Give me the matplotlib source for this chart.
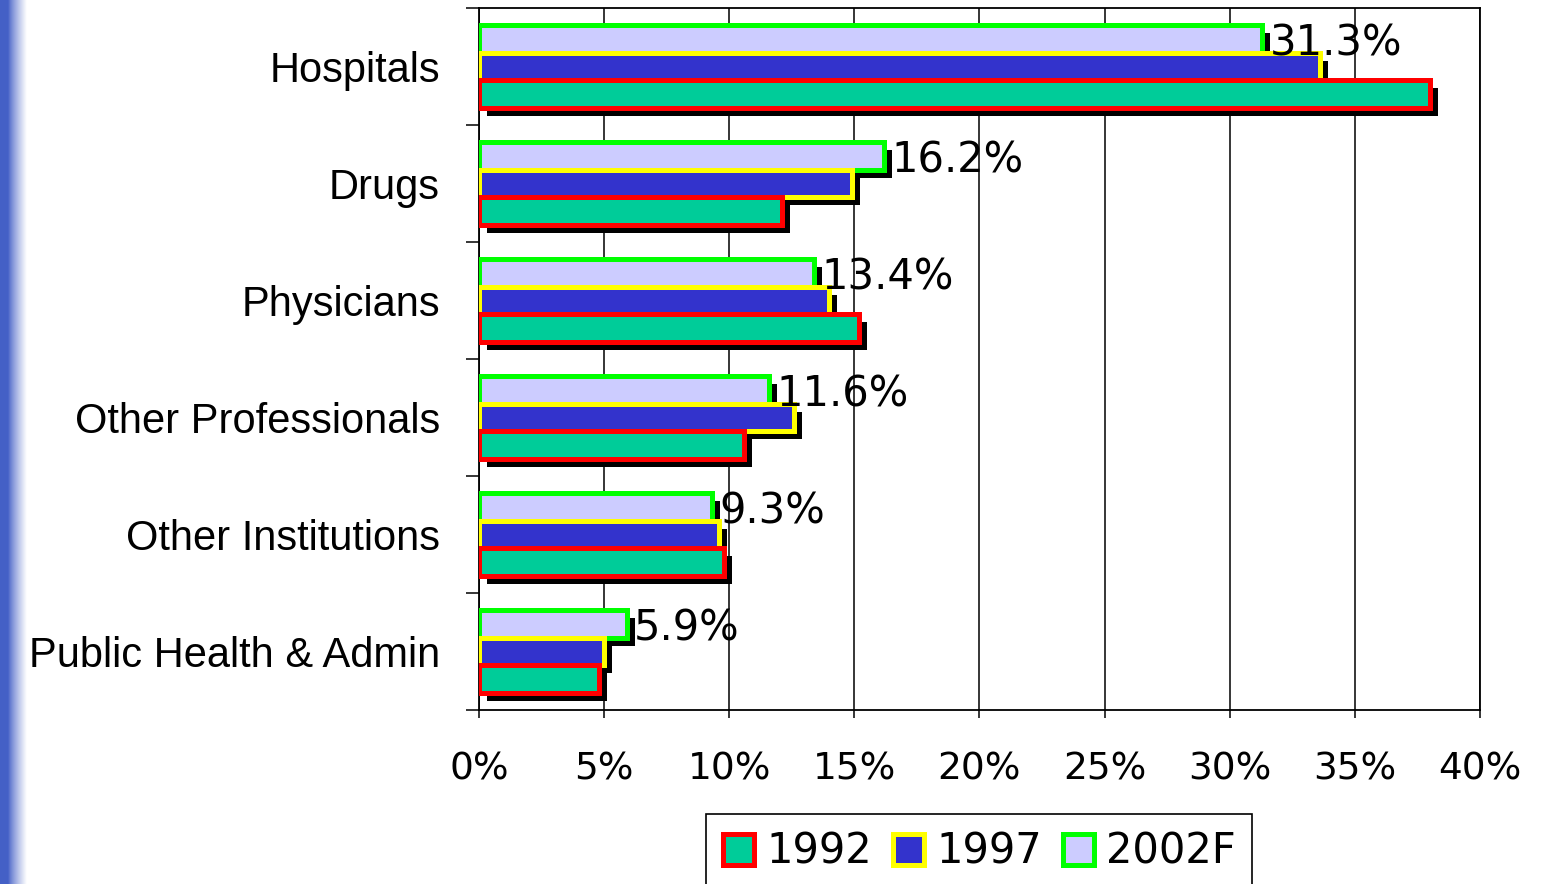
import numpy as np
import matplotlib
matplotlib.use("Agg")
import matplotlib.pyplot as plt
from matplotlib import patheffects
from matplotlib.patches import Patch

plt.rcParams['font.family'] = ['DejaVu Sans']

categories = ["Hospitals", "Drugs", "Physicians", "Other Professionals",
              "Other Institutions", "Public Health & Admin"]
series = ["1992", "1997", "2002F"]
vals_1992 = [38.0, 12.1, 15.2, 10.6, 9.8, 4.8]
vals_1997 = [33.6, 14.9, 14.0, 12.6, 9.6, 5.0]
vals_2002 = [31.3, 16.2, 13.4, 11.6, 9.3, 5.9]
labels_2002 = ["31.3%", "16.2%", "13.4%", "11.6%", "9.3%", "5.9%"]
x_ticks = [0, 5, 10, 15, 20, 25, 30, 35, 40]

face_colors = ["#00cc99", "#3333cc", "#ccccff"]
edge_colors = ["#ff0000", "#ffff00", "#00ff00"]

fig = plt.figure(figsize=(15.43, 8.84), dpi=100)

# blue gradient strip on the left edge
strip = fig.add_axes([0, 0, 0.017, 1])
t = np.linspace(0, 1, 64)
w = np.clip((t - 0.3) / 0.7, 0, 1) ** 0.8
blue = np.array([0.27, 0.38, 0.78])
row = (1 - w)[:, None] * blue + w[:, None] * np.array([1.0, 1.0, 1.0])
strip.imshow(row[None, :, :], aspect='auto', extent=[0, 1, 0, 1])
strip.axis('off')

ax = fig.add_axes([0.3104, 0.1968, 0.6488, 0.7942])

n = len(categories)
ypos = np.arange(n)[::-1]
h = 0.235
shadow = [patheffects.SimplePatchShadow(offset=(5.8, -5.8), shadow_rgbFace='k', alpha=1),
          patheffects.Normal()]

data = [vals_1992, vals_1997, vals_2002]
offsets = [-h, 0, h]
zorders = [5, 4, 3]
for vals, off, fc, ec, z, name in zip(data, offsets, face_colors, edge_colors, zorders, series):
    bars = ax.barh(ypos + off, vals, height=h, color=fc, edgecolor=ec,
                   linewidth=3.6, zorder=z, label=name)
    for b in bars:
        b.set_path_effects(shadow)

for y, v, lab in zip(ypos, vals_2002, labels_2002):
    ax.text(v + 0.3, y + h - 0.04, lab, ha='left', va='center', fontsize=30, zorder=6)

ax.set_xlim(0, 40)
ax.set_ylim(-0.5, n - 0.5)
ax.set_xticks(x_ticks)
ax.set_xticklabels([f"{x}%" for x in x_ticks], fontsize=27)
ax.set_yticks(ypos)
ax.set_yticklabels(categories, fontsize=30, family=['Liberation Sans', 'DejaVu Sans'])
ax.set_yticks(np.arange(-0.5, n, 1), minor=True)
ax.tick_params(axis='y', which='major', length=0, pad=28)
ax.tick_params(axis='y', which='minor', length=9.5, width=1.1, direction='out')
ax.tick_params(axis='x', length=6, width=1.1, direction='out', pad=24)
ax.grid(axis='x', color='k', linewidth=1.1, zorder=0)
ax.set_axisbelow(True)
for s in ax.spines.values():
    s.set_linewidth(1.3)

handles = [Patch(facecolor=fc, edgecolor=ec, linewidth=3.6) for fc, ec in zip(face_colors, edge_colors)]
leg = fig.legend(handles, series, loc='upper center', bbox_to_anchor=(0.6348, 0.079),
                 borderaxespad=0, ncol=3, fontsize=30, frameon=True, fancybox=False,
                 framealpha=1, edgecolor='k', handlelength=0.75, handleheight=0.75,
                 handletextpad=0.29, columnspacing=0.5, borderpad=0.4)
leg.get_frame().set_linewidth(1.2)

fig.savefig("out.png", dpi=100)
